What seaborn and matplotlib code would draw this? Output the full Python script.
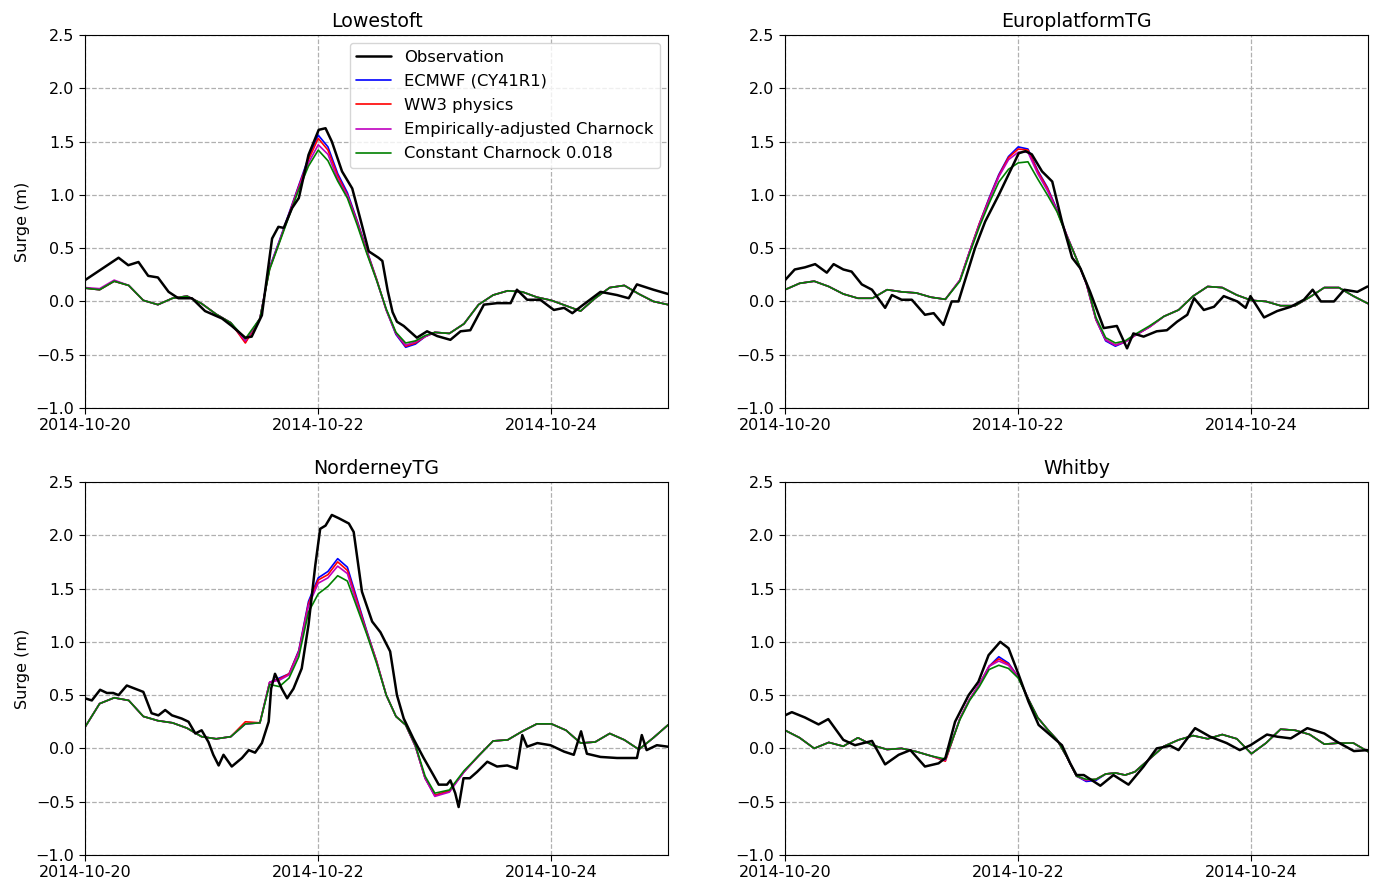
import pandas as pd
import numpy as np
import seaborn as sns
import matplotlib
matplotlib.use("Agg")
import matplotlib.pyplot as plt
import matplotlib.dates as mdates

# hours after 2014-10-20 00:00 for the model series (all four share this grid)
mod_h = [0, 3, 6, 9, 12, 15, 18, 21, 24, 27, 30, 33, 36,
         38, 40, 42, 44, 46, 48, 50, 52, 54, 56, 58, 60, 62, 64, 66, 68, 70, 72,
         75, 78, 81, 84, 87, 90, 93, 96, 99, 102, 105, 108, 111, 114, 117, 120]

series_names = ["ECMWF (CY41R1)", "WW3 physics", "Empirically-adjusted Charnock",
                "Constant Charnock 0.018"]
series_colors = ["b", "r", "m", "g"]
station_names = ["Lowestoft", "EuroplatformTG", "NorderneyTG", "Whitby"]
tick_dates = ["2014-10-20", "2014-10-22", "2014-10-24"]
y_ticks = [-1.0, -0.5, 0.0, 0.5, 1.0, 1.5, 2.0, 2.5]

# ---- Lowestoft ----
low_obs_h = [0, 6.9, 8.9, 11, 13, 15, 17.2, 19.2, 22, 24.7, 28.2, 30.2, 33, 34.3, 36.4,
             38.5, 39.8, 40.9, 42.6, 44, 46, 48.1, 49.5, 50.8, 52.9, 55, 56.8, 58.4,
             60.4, 61.2, 62.3, 63.3, 64.2, 65.6, 68.3, 70.4, 72.5, 75.2, 77.3, 79.3,
             82.1, 84.8, 87.6, 88.9, 91, 93.7, 96.5, 98.6, 100.3, 102, 106.1, 109.5,
             111.9, 113.6, 117, 120]
low_obs = [0.20, 0.41, 0.34, 0.37, 0.24, 0.225, 0.09, 0.03, 0.03, -0.09, -0.16, -0.23,
           -0.34, -0.33, -0.13, 0.59, 0.70, 0.69, 0.875, 0.97, 1.375, 1.61, 1.625, 1.50,
           1.22, 1.06, 0.75, 0.47, 0.41, 0.38, 0.10, -0.10, -0.19, -0.23, -0.34, -0.28,
           -0.325, -0.36, -0.28, -0.27, -0.03, -0.016, -0.016, 0.11, 0.016, 0.016, -0.08,
           -0.06, -0.11, -0.05, 0.09, 0.06, 0.03, 0.16, 0.11, 0.07]
low_ecmwf = [0.125, 0.11, 0.19, 0.15, 0.01, -0.03, 0.03, 0.05, -0.02, -0.12, -0.2, -0.38, -0.16,
             0.32, 0.57, 0.83, 1.09, 1.35, 1.56, 1.45, 1.20, 1.02, 0.76, 0.48, 0.21, -0.08,
             -0.31, -0.43, -0.40, -0.33, -0.29,
             -0.3, -0.21, -0.03, 0.06, 0.1, 0.09, 0.04, 0.01, -0.04, -0.09, 0.03, 0.13, 0.15,
             0.07, 0.0, -0.03]
low_ww3 = [0.125, 0.11, 0.19, 0.15, 0.01, -0.03, 0.03, 0.05, -0.02, -0.12, -0.2, -0.39, -0.16,
           0.31, 0.56, 0.82, 1.08, 1.33, 1.53, 1.42, 1.18, 1.00, 0.75, 0.47, 0.21, -0.08,
           -0.30, -0.42, -0.39, -0.33, -0.29,
           -0.3, -0.21, -0.03, 0.06, 0.1, 0.09, 0.04, 0.01, -0.04, -0.09, 0.03, 0.13, 0.15,
           0.07, 0.0, -0.03]
low_emp = [0.13, 0.12, 0.2, 0.15, 0.01, -0.03, 0.03, 0.05, -0.02, -0.12, -0.2, -0.37, -0.16,
           0.31, 0.56, 0.81, 1.07, 1.30, 1.47, 1.38, 1.15, 0.99, 0.74, 0.46, 0.2, -0.08,
           -0.30, -0.41, -0.38, -0.33, -0.29,
           -0.3, -0.21, -0.03, 0.06, 0.1, 0.09, 0.04, 0.01, -0.04, -0.09, 0.03, 0.13, 0.15,
           0.07, 0.0, -0.03]
low_const = [0.125, 0.11, 0.19, 0.15, 0.01, -0.03, 0.03, 0.05, -0.02, -0.12, -0.2, -0.35, -0.16,
             0.30, 0.55, 0.80, 1.05, 1.27, 1.42, 1.32, 1.13, 0.97, 0.72, 0.45, 0.2, -0.07,
             -0.29, -0.39, -0.37, -0.32, -0.29,
             -0.3, -0.21, -0.03, 0.06, 0.1, 0.09, 0.04, 0.01, -0.04, -0.09, 0.03, 0.13, 0.15,
             0.07, 0.0, -0.03]

# ---- EuroplatformTG ----
eur_obs_h = [0, 2, 4.1, 6.2, 8.6, 10, 12, 13.7, 15.8, 17.9, 20.6, 22, 24, 26.1, 28.8, 30.6,
             32.6, 34.3, 35.7, 37.4, 39.1, 41.2, 44, 46, 48.1, 49.5, 50.8, 52.9, 55, 57,
             59.1, 60.8, 62.8, 65.6, 68.3, 70.4, 71.7, 73.8, 76.5, 78.6, 80.7, 82.8, 84.2,
             86.2, 88.3, 90.3, 93.1, 94.8, 95.8, 98.6, 101.3, 104.1, 106.8, 108.6, 110.3,
             113, 115.1, 117.8, 119.9]
eur_obs = [0.2, 0.3, 0.32, 0.35, 0.27, 0.35, 0.3, 0.28, 0.16, 0.11, -0.06, 0.06, 0.016, 0.016,
           -0.125, -0.11, -0.22, 0.0, 0.0, 0.25, 0.5, 0.75, 1.0, 1.19, 1.39, 1.41, 1.38, 1.22,
           1.125, 0.75, 0.41, 0.31, 0.09, -0.25, -0.23, -0.44, -0.3, -0.33, -0.28, -0.27,
           -0.19, -0.125, 0.03, -0.08, -0.05, 0.05, 0.0, -0.06, 0.05, -0.15, -0.09, -0.05,
           0.016, 0.11, 0.0, 0.0, 0.11, 0.09, 0.14]
eur_ecmwf = [0.11, 0.17, 0.19, 0.14, 0.07, 0.03, 0.03, 0.11, 0.09, 0.08, 0.04, 0.02, 0.2,
             0.47, 0.73, 0.97, 1.19, 1.36, 1.45, 1.43, 1.23, 1.07, 0.86, 0.62, 0.4, 0.17,
             -0.17, -0.37, -0.42, -0.38, -0.32,
             -0.24, -0.14, -0.08, 0.05, 0.14, 0.13, 0.06, 0.01, 0.0, -0.04, -0.04, 0.04, 0.13,
             0.13, 0.05, -0.02]
eur_ww3 = [0.11, 0.17, 0.19, 0.14, 0.07, 0.03, 0.03, 0.11, 0.09, 0.08, 0.04, 0.02, 0.2,
           0.47, 0.73, 0.96, 1.18, 1.35, 1.43, 1.42, 1.22, 1.06, 0.85, 0.62, 0.4, 0.17,
           -0.17, -0.36, -0.41, -0.38, -0.32,
           -0.24, -0.14, -0.08, 0.05, 0.14, 0.13, 0.06, 0.01, 0.0, -0.04, -0.04, 0.04, 0.13,
           0.13, 0.05, -0.02]
eur_emp = [0.11, 0.17, 0.19, 0.14, 0.07, 0.03, 0.03, 0.11, 0.09, 0.08, 0.04, 0.02, 0.2,
           0.47, 0.72, 0.95, 1.17, 1.33, 1.40, 1.40, 1.20, 1.04, 0.85, 0.62, 0.4, 0.17,
           -0.17, -0.36, -0.41, -0.38, -0.32,
           -0.24, -0.14, -0.08, 0.05, 0.14, 0.13, 0.06, 0.01, 0.0, -0.04, -0.04, 0.04, 0.13,
           0.13, 0.05, -0.02]
eur_const = [0.11, 0.17, 0.19, 0.14, 0.07, 0.03, 0.03, 0.11, 0.09, 0.08, 0.04, 0.02, 0.19,
             0.45, 0.70, 0.92, 1.12, 1.24, 1.30, 1.31, 1.15, 1.00, 0.84, 0.61, 0.4, 0.18,
             -0.15, -0.34, -0.39, -0.37, -0.31,
             -0.23, -0.14, -0.08, 0.05, 0.14, 0.13, 0.06, 0.01, 0.0, -0.04, -0.04, 0.04, 0.13,
             0.13, 0.05, -0.02]

# ---- NorderneyTG ----
nor_obs_h = [0, 1.4, 3.1, 4.5, 5.8, 6.9, 8.6, 10.3, 12, 13.7, 15.1, 16.5, 17.9, 19.9, 21.3,
             22.7, 24, 25.4, 26.4, 27.5, 28.5, 30.2, 32.3, 33.7, 35, 36.4, 37.8, 38.3, 39.1,
             40.5, 41.6, 42.9, 44.6, 46, 47.4, 48.4, 49.5, 50.8, 52.2, 54.3, 55.3, 57, 59.1,
             60.8, 62.8, 64.2, 65.6, 67.6, 69.7, 71.7, 72.8, 74.5, 75.2, 76.2, 76.9, 77.9,
             79.2, 80.7, 82.8, 84.8, 86.9, 88.9, 90, 91, 93.1, 95.8, 98.6, 100.6, 102.1,
             103.3, 106.1, 109.5, 113.6, 114.6, 115.6, 117.7, 120]
nor_obs = [0.47, 0.45, 0.55, 0.52, 0.52, 0.5, 0.59, 0.56, 0.53, 0.33, 0.31, 0.36, 0.31, 0.28,
           0.25, 0.14, 0.17, 0.06, -0.06, -0.16, -0.06, -0.17, -0.09, -0.016, -0.04, 0.05,
           0.25, 0.56, 0.7, 0.56, 0.47, 0.56, 0.75, 1.16, 1.72, 2.06, 2.09, 2.19, 2.16, 2.11,
           2.03, 1.47, 1.19, 1.09, 0.91, 0.5, 0.28, 0.09, -0.09, -0.25, -0.34, -0.34, -0.3,
           -0.42, -0.55, -0.28, -0.28, -0.22, -0.125, -0.17, -0.16, -0.19, 0.125, 0.016,
           0.05, 0.03, -0.03, -0.06, 0.16, -0.05, -0.08, -0.09, -0.09, 0.125, -0.016, 0.03,
           0.016]
nor_ecmwf = [0.2, 0.42, 0.475, 0.45, 0.3, 0.26, 0.24, 0.19, 0.11, 0.09, 0.11, 0.23, 0.24,
             0.62, 0.66, 0.70, 0.92, 1.38, 1.60, 1.66, 1.78, 1.70, 1.40, 1.10, 0.82, 0.5,
             0.3, 0.22, 0.02, -0.28, -0.44,
             -0.40, -0.22, -0.07, 0.07, 0.08, 0.16, 0.23, 0.23, 0.17, 0.05, 0.06, 0.14, 0.08,
             -0.01, 0.1, 0.22]
nor_ww3 = [0.2, 0.42, 0.475, 0.45, 0.3, 0.26, 0.24, 0.19, 0.11, 0.09, 0.11, 0.25, 0.24,
           0.62, 0.65, 0.70, 0.91, 1.36, 1.58, 1.63, 1.75, 1.67, 1.38, 1.09, 0.82, 0.5,
           0.3, 0.22, 0.02, -0.28, -0.44,
           -0.40, -0.22, -0.07, 0.07, 0.08, 0.16, 0.23, 0.23, 0.17, 0.05, 0.06, 0.14, 0.08,
           -0.01, 0.1, 0.22]
nor_emp = [0.2, 0.42, 0.475, 0.45, 0.3, 0.26, 0.24, 0.19, 0.11, 0.09, 0.11, 0.23, 0.24,
           0.62, 0.64, 0.69, 0.90, 1.34, 1.55, 1.60, 1.71, 1.64, 1.35, 1.08, 0.81, 0.5,
           0.3, 0.22, 0.02, -0.28, -0.45,
           -0.41, -0.22, -0.07, 0.07, 0.08, 0.16, 0.23, 0.23, 0.17, 0.05, 0.06, 0.14, 0.08,
           -0.01, 0.1, 0.22]
nor_const = [0.2, 0.42, 0.475, 0.45, 0.3, 0.26, 0.24, 0.19, 0.11, 0.09, 0.11, 0.23, 0.24,
             0.60, 0.58, 0.66, 0.86, 1.28, 1.45, 1.52, 1.62, 1.57, 1.32, 1.07, 0.80, 0.5,
             0.3, 0.22, 0.03, -0.26, -0.42,
             -0.39, -0.21, -0.07, 0.07, 0.08, 0.16, 0.23, 0.23, 0.17, 0.05, 0.06, 0.14, 0.08,
             -0.01, 0.1, 0.22]

# ---- Whitby ----
whi_obs_h = [0, 1.4, 4.1, 6.9, 8.9, 12, 14.4, 17.9, 20.6, 23.4, 25.8, 28.8, 31.6, 33, 35,
             37.8, 39.8, 41.9, 44.3, 46, 48.1, 50.1, 52.2, 55, 57, 58.7, 60, 61.5, 64.9,
             67.6, 70.7, 73.8, 76.5, 79.3, 81, 84.4, 87.5, 90.9, 93.6, 95.8, 99.2, 101.3,
             104.1, 107.5, 111, 113.7, 117.1, 120]
whi_obs = [0.31, 0.34, 0.29, 0.225, 0.275, 0.08, 0.03, 0.07, -0.15, -0.06, -0.016, -0.17,
           -0.14, -0.09, 0.25, 0.5, 0.625, 0.875, 1.0, 0.94, 0.69, 0.44, 0.22, 0.11, 0.03,
           -0.14, -0.25, -0.25, -0.35, -0.25, -0.34, -0.17, 0.0, 0.025, -0.016, 0.19, 0.11,
           0.05, -0.016, 0.03, 0.13, 0.11, 0.094, 0.19, 0.14, 0.06, -0.025, -0.016]
whi_ecmwf = [0.17, 0.1, 0.0, 0.056, 0.02, 0.1, 0.03, -0.01, 0.0, -0.03, -0.07, -0.11, 0.28,
             0.46, 0.60, 0.77, 0.86, 0.80, 0.67, 0.47, 0.29, 0.18, 0.08, -0.08, -0.26, -0.31,
             -0.30, -0.24, -0.23, -0.25, -0.22,
             -0.1, 0.02, 0.08, 0.12, 0.09, 0.13, 0.09, -0.05, 0.05, 0.18, 0.17, 0.13, 0.04,
             0.05, 0.05, -0.03]
whi_ww3 = [0.17, 0.1, 0.0, 0.056, 0.02, 0.1, 0.03, -0.01, 0.0, -0.03, -0.07, -0.12, 0.28,
           0.46, 0.60, 0.77, 0.84, 0.79, 0.67, 0.47, 0.29, 0.18, 0.08, -0.08, -0.26, -0.30,
           -0.29, -0.24, -0.23, -0.25, -0.22,
           -0.1, 0.02, 0.08, 0.12, 0.09, 0.13, 0.09, -0.05, 0.05, 0.18, 0.17, 0.13, 0.04,
           0.05, 0.05, -0.03]
whi_emp = [0.17, 0.1, 0.0, 0.056, 0.02, 0.1, 0.03, -0.01, 0.0, -0.03, -0.07, -0.11, 0.28,
           0.46, 0.60, 0.77, 0.82, 0.78, 0.67, 0.47, 0.29, 0.18, 0.08, -0.08, -0.26, -0.30,
           -0.29, -0.24, -0.23, -0.25, -0.22,
           -0.1, 0.02, 0.08, 0.12, 0.09, 0.13, 0.09, -0.05, 0.05, 0.18, 0.17, 0.13, 0.04,
           0.05, 0.05, -0.03]
whi_const = [0.17, 0.1, 0.0, 0.056, 0.02, 0.1, 0.03, -0.01, 0.0, -0.03, -0.07, -0.1, 0.27,
             0.45, 0.58, 0.74, 0.78, 0.75, 0.66, 0.47, 0.29, 0.18, 0.08, -0.08, -0.26, -0.29,
             -0.29, -0.24, -0.23, -0.25, -0.22,
             -0.1, 0.02, 0.08, 0.12, 0.09, 0.13, 0.09, -0.05, 0.05, 0.18, 0.17, 0.13, 0.04,
             0.05, 0.05, -0.03]

panels = [
    (low_obs_h, low_obs, [low_ecmwf, low_ww3, low_emp, low_const]),
    (eur_obs_h, eur_obs, [eur_ecmwf, eur_ww3, eur_emp, eur_const]),
    (nor_obs_h, nor_obs, [nor_ecmwf, nor_ww3, nor_emp, nor_const]),
    (whi_obs_h, whi_obs, [whi_ecmwf, whi_ww3, whi_emp, whi_const]),
]

start = pd.Timestamp("2014-10-20")


def to_time(hours):
    return start + pd.to_timedelta(np.asarray(hours, dtype=float), unit="h")


sns.set_style("ticks")
plt.rcParams["font.family"] = ["DejaVu Sans"]
plt.rcParams["axes.edgecolor"] = "black"
plt.rcParams["xtick.color"] = "black"
plt.rcParams["ytick.color"] = "black"
plt.rcParams["text.color"] = "black"
plt.rcParams["axes.labelcolor"] = "black"

fig, axes = plt.subplots(2, 2, figsize=(13.76, 8.85), dpi=100)
fig.subplots_adjust(left=0.0618, right=0.9942, top=0.9605, bottom=0.0339,
                    wspace=0.2007, hspace=0.198)

for i, (ax, (obs_h, obs_v, models)) in enumerate(zip(axes.flat, panels)):
    # model runs
    frames = []
    for name, vals in zip(series_names, models):
        frames.append(pd.DataFrame({"time": to_time(mod_h), "surge": vals, "run": name}))
    df_mod = pd.concat(frames, ignore_index=True)
    sns.lineplot(data=df_mod, x="time", y="surge", hue="run", hue_order=series_names,
                 palette=dict(zip(series_names, series_colors)), linewidth=1.2,
                 errorbar=None, legend=False, ax=ax, zorder=2)

    # observation on top
    df_obs = pd.DataFrame({"time": to_time(obs_h), "surge": obs_v})
    sns.lineplot(data=df_obs, x="time", y="surge", color="black", linewidth=1.8,
                 errorbar=None, ax=ax, zorder=3)

    ax.set_xlim(start, start + pd.Timedelta(days=5))
    ax.set_ylim(-1.0, 2.5)
    ax.set_yticks(y_ticks)
    ax.set_xticks(pd.to_datetime(tick_dates))
    ax.xaxis.set_major_formatter(mdates.DateFormatter("%Y-%m-%d"))
    ax.tick_params(labelsize=11.5, length=4)
    ax.grid(True, linestyle="--", color="#b0b0b0", linewidth=0.9)
    ax.set_title(station_names[i], fontsize=13.7)
    ax.set_xlabel("")
    if i % 2 == 0:
        ax.set_ylabel("Surge (m)", fontsize=11.5)
    else:
        ax.set_ylabel("")

    if i == 0:
        lines = ax.get_lines()
        handles = [lines[-1]] + lines[:4]
        labels = ["Observation"] + series_names
        ax.legend(handles, labels, loc="upper right", fontsize=11.8, frameon=True,
                  labelspacing=0.56, handlelength=2.1)

fig.savefig("out.png", dpi=100)
